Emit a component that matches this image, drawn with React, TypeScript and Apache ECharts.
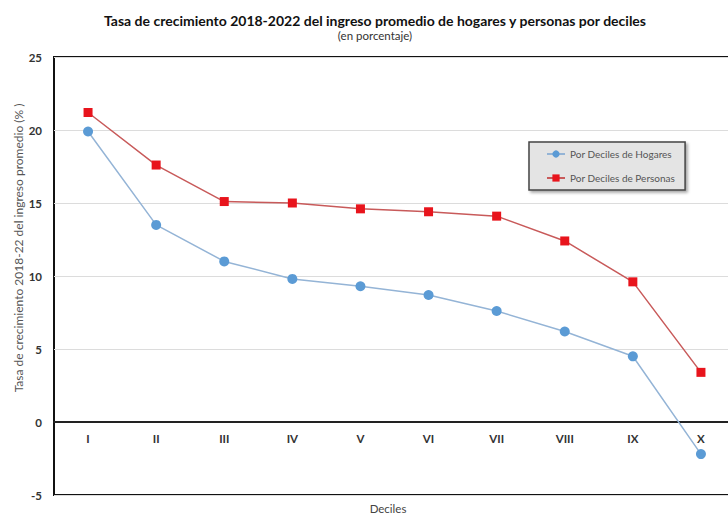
import React, { useEffect, useRef } from "react";
import * as echarts from "echarts";

const categories = ["I", "II", "III", "IV", "V", "VI", "VII", "VIII", "IX", "X"];
const hogares = [19.9, 13.5, 11.0, 9.8, 9.3, 8.7, 7.6, 6.2, 4.5, -2.2];
const personas = [21.2, 17.6, 15.1, 15.0, 14.6, 14.4, 14.1, 12.4, 9.6, 3.4];
const seriesNames = ["Por Deciles de Hogares", "Por Deciles de Personas"];
const yMin = -5;
const yMax = 25;

const FONT = "Lato, 'Open Sans', sans-serif";

export default function App() {
  const ref = useRef<HTMLDivElement>(null);
  useEffect(() => {
    document.body.style.margin = "0";
    if (!ref.current) return;
    const chart = echarts.init(ref.current, undefined, { renderer: "svg" });
    const gridTop = 57;
    const gridBottom = 21;
    const gridHeight = 516 - gridTop - gridBottom;
    const zeroOffset = (gridHeight * (0 - yMin)) / (yMax - yMin);
    chart.setOption({
      animation: false,
      backgroundColor: "#ffffff",
      title: {
        text: "Tasa de crecimiento 2018-2022 del ingreso promedio de hogares y personas por deciles",
        subtext: "(en porcentaje)",
        left: 370,
        textAlign: "center",
        top: 8,
        itemGap: 2,
        textStyle: { fontFamily: FONT, fontSize: 14, fontWeight: "bold", color: "#111" },
        subtextStyle: { fontFamily: FONT, fontSize: 11.5, color: "#333" },
      },
      legend: {
        data: seriesNames,
        orient: "vertical",
        left: 529,
        top: 142,
        itemGap: 14,
        itemWidth: 18,
        itemHeight: 9,
        padding: [7, 10, 7, 17],
        backgroundColor: "#e4e4e4",
        borderColor: "#444",
        borderWidth: 1.5,
        shadowColor: "rgba(0,0,0,0.35)",
        shadowBlur: 3,
        shadowOffsetX: 2,
        shadowOffsetY: 2,
        textStyle: { fontFamily: FONT, fontSize: 10, color: "#555" },
      },
      grid: {
        left: 54,
        width: 681,
        top: gridTop,
        bottom: gridBottom,
        show: true,
        borderColor: "#111",
        borderWidth: 2,
        containLabel: false,
        outerBoundsMode: "none",
      },
      xAxis: {
        type: "category",
        data: categories,
        boundaryGap: true,
        position: "bottom",
        offset: -zeroOffset,
        axisLine: { onZero: false, lineStyle: { color: "#222", width: 2 } },
        axisTick: { show: false },
        axisLabel: {
          margin: 10,
          fontFamily: FONT,
          fontSize: 11.5,
          fontWeight: "bold",
          color: "#333",
        },
        splitLine: { show: false },
      },
      yAxis: {
        type: "value",
        min: yMin,
        max: yMax,
        interval: 5,
        axisLine: { show: false },
        axisTick: { show: false },
        axisLabel: {
          margin: 12,
          fontFamily: FONT,
          fontSize: 11.5,
          fontWeight: "bold",
          color: "#333",
        },
        splitLine: { show: true, lineStyle: { color: "#dcdcdc", width: 1 } },
      },
      graphic: [
        {
          type: "text",
          x: 18,
          y: 248,
          rotation: Math.PI / 2,
          style: {
            text: "Tasa de crecimiento 2018-22 del ingreso promedio (% )",
            fontFamily: FONT,
            fontSize: 12,
            fill: "#555",
            align: "center",
            verticalAlign: "middle",
          },
        },
        {
          type: "text",
          x: 388,
          y: 508,
          style: {
            text: "Deciles",
            fontFamily: FONT,
            fontSize: 11.5,
            fill: "#444",
            align: "center",
            verticalAlign: "middle",
          },
        },
      ],
      series: [
        {
          name: seriesNames[0],
          type: "line",
          data: hogares,
          symbol: "circle",
          symbolSize: 10,
          lineStyle: { color: "#94b4d6", width: 1.5 },
          itemStyle: { color: "#5b9bd5" },
        },
        {
          name: seriesNames[1],
          type: "line",
          data: personas,
          symbol: "rect",
          symbolSize: 9,
          lineStyle: { color: "#c85a5a", width: 1.5 },
          itemStyle: { color: "#e8141c" },
        },
      ],
    });
    return () => chart.dispose();
  }, []);
  return <div ref={ref} style={{ width: 728, height: 516 }} />;
}
